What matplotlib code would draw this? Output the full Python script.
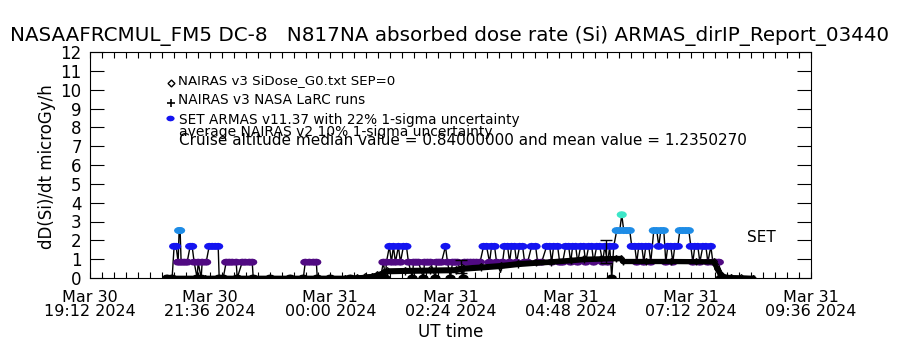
import matplotlib
matplotlib.use('Agg')
import matplotlib.pyplot as plt
import numpy as np
from matplotlib.ticker import FixedLocator

# ---------------- data (UT hours counted from 2024-03-30 00:00) ----------------
nairas_g0_hours = [20.74, 21.5, 22.5, 23.5, 24.3, 24.54, 24.7, 24.84, 24.94, 25.06,
                   25.14, 25.5, 26.0, 26.5, 26.62, 27.0, 27.4, 27.74, 28.1, 28.4,
                   28.8, 29.06, 29.4, 29.7, 29.8, 29.84, 30.3, 30.8, 31.3, 31.66,
                   31.69, 31.72, 31.75, 31.78, 31.81, 31.85, 32.0, 32.2, 32.44]
nairas_g0_dose = [0.0, 0.0, 0.0, 0.0, 0.0, 0.03, 0.08, 0.13, 0.2, 0.32,
                  0.42, 0.44, 0.46, 0.48, 0.56, 0.62, 0.7, 0.8, 0.86, 0.9,
                  0.98, 1.04, 1.06, 1.08, 1.08, 0.92, 0.92, 0.92, 0.91, 0.9,
                  0.72, 0.55, 0.4, 0.26, 0.15, 0.08, 0.05, 0.03, 0.0]

nairas_larc_hours = [20.74, 21.5, 22.5, 23.5, 24.3, 24.54, 24.7, 24.84, 24.94, 25.06,
                     25.14, 25.5, 26.0, 26.5, 26.62, 27.0, 27.4, 27.74, 28.1, 28.4,
                     28.8, 29.06, 29.4, 29.7, 29.8, 29.84, 30.3, 30.8, 31.3, 31.66,
                     31.72, 31.8, 32.0, 32.44]
nairas_larc_dose = [0.0, 0.0, 0.0, 0.0, 0.0, 0.02, 0.05, 0.09, 0.14, 0.24,
                    0.32, 0.34, 0.36, 0.38, 0.45, 0.52, 0.6, 0.7, 0.77, 0.82,
                    0.9, 0.96, 0.99, 1.01, 1.01, 0.86, 0.86, 0.86, 0.85, 0.84,
                    0.5, 0.1, 0.03, 0.0]

armas_hours = [20.74, 20.84, 20.88, 20.92, 20.96, 20.98, 21.00, 21.02, 21.08, 21.14,
               21.20, 21.24, 21.28, 21.34, 21.36, 21.42, 21.44, 21.52, 21.58, 21.64,
               21.70, 21.76, 21.78, 21.86, 21.92, 21.98, 22.04, 22.12, 22.14, 22.24,
               22.30, 22.38, 22.44, 22.46, 22.80, 23.20, 23.46, 23.50, 23.58, 23.66,
               23.72, 23.74, 24.00, 24.40, 24.80, 25.00, 25.06, 25.10, 25.12, 25.18,
               25.22, 25.26, 25.30, 25.36, 25.40, 25.46, 25.52, 25.56, 25.64, 25.66,
               25.71, 25.76, 25.86, 25.88, 25.94, 26.00, 26.10, 26.12, 26.17, 26.22,
               26.30, 26.34, 26.40, 26.44, 26.49, 26.54, 26.66, 26.68, 26.74, 26.80,
               26.86, 26.92, 26.99, 27.06, 27.12, 27.18, 27.22, 27.28, 27.32, 27.40,
               27.44, 27.48, 27.54, 27.58, 27.62, 27.68, 27.72, 27.78, 27.84, 27.88,
               27.94, 28.02, 28.10, 28.14, 28.22, 28.32, 28.38, 28.42, 28.46, 28.54,
               28.58, 28.64, 28.70, 28.76, 28.80, 28.84, 28.90, 28.94, 29.00, 29.06,
               29.10, 29.16, 29.22, 29.26, 29.32, 29.38, 29.44, 29.48, 29.54, 29.58,
               29.62, 29.66, 29.72, 29.78, 29.82, 29.86, 29.92, 29.98, 30.02, 30.08,
               30.12, 30.16, 30.22, 30.26, 30.30, 30.36, 30.40, 30.46, 30.52, 30.56,
               30.60, 30.66, 30.70, 30.74, 30.80, 30.84, 30.88, 30.94, 30.98, 31.04,
               31.10, 31.16, 31.20, 31.24, 31.28, 31.34, 31.38, 31.44, 31.50, 31.54,
               31.60, 31.64, 31.70, 31.76, 31.80]
armas_dose = [0.0, 0.0, 1.68, 1.68, 0.84, 2.52, 2.52, 0.84, 0.84, 0.84,
              1.68, 1.68, 0.84, 0.0, 0.84, 0.0, 0.84, 0.84, 1.68, 1.68,
              1.68, 1.68, 0.0, 0.0, 0.84, 0.84, 0.84, 0.84, 0.0, 0.84,
              0.84, 0.84, 0.84, 0.0, 0.0, 0.0, 0.0, 0.84, 0.84, 0.84,
              0.84, 0.0, 0.0, 0.0, 0.0, 0.0, 0.84, 0.0, 0.84, 1.68,
              0.84, 1.68, 0.84, 1.68, 0.84, 1.68, 1.68, 0.84, 0.0, 0.84,
              0.84, 0.84, 0.0, 0.84, 0.84, 0.84, 0.0, 0.84, 0.84, 0.84,
              1.68, 0.84, 0.0, 0.84, 0.84, 0.84, 0.0, 0.84, 0.84, 0.84,
              0.84, 0.84, 0.84, 1.68, 1.68, 0.84, 1.68, 1.68, 0.84, 0.3,
              0.84, 1.68, 1.68, 0.84, 1.68, 1.68, 0.84, 1.68, 1.68, 0.84,
              0.84, 1.68, 1.68, 0.84, 0.84, 1.68, 1.68, 0.84, 1.68, 1.68,
              0.84, 0.84, 1.68, 1.68, 0.84, 1.68, 1.68, 0.84, 1.68, 1.68,
              0.84, 1.68, 1.68, 0.84, 1.68, 1.68, 0.84, 1.68, 0.84, 1.68,
              0.0, 1.68, 2.52, 2.52, 3.36, 2.52, 2.52, 2.52, 1.68, 1.68,
              0.84, 1.68, 1.68, 0.84, 1.68, 1.68, 0.84, 2.52, 2.52, 1.68,
              2.52, 2.52, 0.84, 1.68, 1.68, 0.84, 1.68, 1.68, 2.52, 2.52,
              2.52, 2.52, 1.68, 0.84, 1.68, 1.68, 0.84, 1.68, 1.68, 0.84,
              1.68, 0.84, 0.84, 0.84, 0.0]

errbar_hours = [26.6, 29.5]
errbar_center = [0.62, 1.41]
errbar_sigma = [0.33, 0.61]

xtick_hours = [19.2, 21.6, 24.0, 26.4, 28.8, 31.2, 33.6]
xtick_labels = ['Mar 30\n19:12 2024', 'Mar 30\n21:36 2024', 'Mar 31\n00:00 2024',
                'Mar 31\n02:24 2024', 'Mar 31\n04:48 2024', 'Mar 31\n07:12 2024',
                'Mar 31\n09:36 2024']
ytick_values = list(range(0, 13))

level_colors = {0.0: 'black', 0.3: 'none', 0.84: '#500a82', 1.68: '#1414f0',
                2.52: '#1e8ce6', 3.36: '#3ce6c8'}

# ---------------- figure ----------------
W, H = 900, 350
fig = plt.figure(figsize=(9, 3.5), dpi=100)
L, R, T, B = 90, 811, 52, 278
ax = fig.add_axes([L / W, 1 - B / H, (R - L) / W, (B - T) / H])
ax.set_xlim(19.2, 33.6)
ax.set_ylim(0, 12)

theta = np.linspace(0, 2 * np.pi, 13)
ell = np.column_stack([1.45 * np.cos(theta), np.sin(theta)])

# ARMAS line + markers
ax.plot(armas_hours, armas_dose, color='black', lw=1.0, zorder=2)
cols = [level_colors[v] for v in armas_dose]
ax.scatter(armas_hours, armas_dose, c=cols, marker=ell, s=55, linewidths=0,
           zorder=3)

# NAIRAS series
ax.plot(nairas_larc_hours, nairas_larc_dose, color='black', lw=3.4, marker='+',
        ms=4, mew=1, zorder=4)
ax.plot(nairas_g0_hours, nairas_g0_dose, color='black', lw=2.6, marker='D',
        ms=3, mfc='none', mec='black', mew=0.8, zorder=5)

ax.errorbar(errbar_hours, errbar_center, yerr=errbar_sigma, fmt='none',
            ecolor='black', elinewidth=1, capsize=4, zorder=6)

# ticks
ax.xaxis.set_major_locator(FixedLocator(xtick_hours))
ax.xaxis.set_minor_locator(FixedLocator(np.arange(19.2, 33.61, 0.24)))
ax.set_xticklabels(xtick_labels, fontsize=11.5, linespacing=0.85)
ax.set_yticks(ytick_values)
ax.set_yticklabels([str(v) for v in ytick_values], fontsize=12)
ax.tick_params(axis='x', which='major', direction='in', top=True, length=4, width=0.8, pad=9)
ax.tick_params(axis='x', which='minor', direction='in', top=True, length=4, width=0.8)
ax.tick_params(axis='y', which='major', direction='in', right=True, length=10, width=0.8, pad=6)
for sp in ax.spines.values():
    sp.set_linewidth(0.8)

ax.set_xlabel('UT time', fontsize=12, labelpad=3)
ax.set_ylabel('dD(Si)/dt microGy/h', fontsize=12)
ax.yaxis.set_label_coords((56 - L) / (R - L), (B - 167) / (B - T))

fig.text(450 / W, 1 - 36 / H, 'NASAAFRCMUL_FM5 DC-8   N817NA absorbed dose rate (Si) ARMAS_dirIP_Report_03440',
         ha='center', va='center', fontsize=14.3)

def ftxt(x, y, s, size):
    fig.text(x / W, 1 - y / H, s, ha='left', va='center', fontsize=size)

ftxt(178, 81, 'NAIRAS v3 SiDose_G0.txt SEP=0', 9.6)
ftxt(178, 100, 'NAIRAS v3 NASA LaRC runs', 9.8)
ftxt(179, 120, 'SET ARMAS v11.37 with 22% 1-sigma uncertainty', 9.8)
ftxt(179, 132, 'average NAIRAS v2 10% 1-sigma uncertainty', 10)
ftxt(179, 141, 'Cruise altitude median value = 0.84000000 and mean value = 1.2350270', 11)
fig.text(761 / W, 1 - 237 / H, 'SET', ha='center', va='center', fontsize=11)

# legend symbols
fig.add_artist(plt.Line2D([171 / W], [1 - 83 / H], marker='D', ms=3.5, mfc='white',
                          mec='black', mew=1, transform=fig.transFigure))
fig.add_artist(plt.Line2D([171 / W], [1 - 103 / H], marker='+', ms=6, mec='black',
                          mew=1.2, transform=fig.transFigure))
fig.add_artist(plt.Line2D([170 / W], [1 - 118 / H], marker=ell, ms=6, mfc='#1414f0',
                          mec='none', transform=fig.transFigure))

fig.savefig('out.png', dpi=100)
